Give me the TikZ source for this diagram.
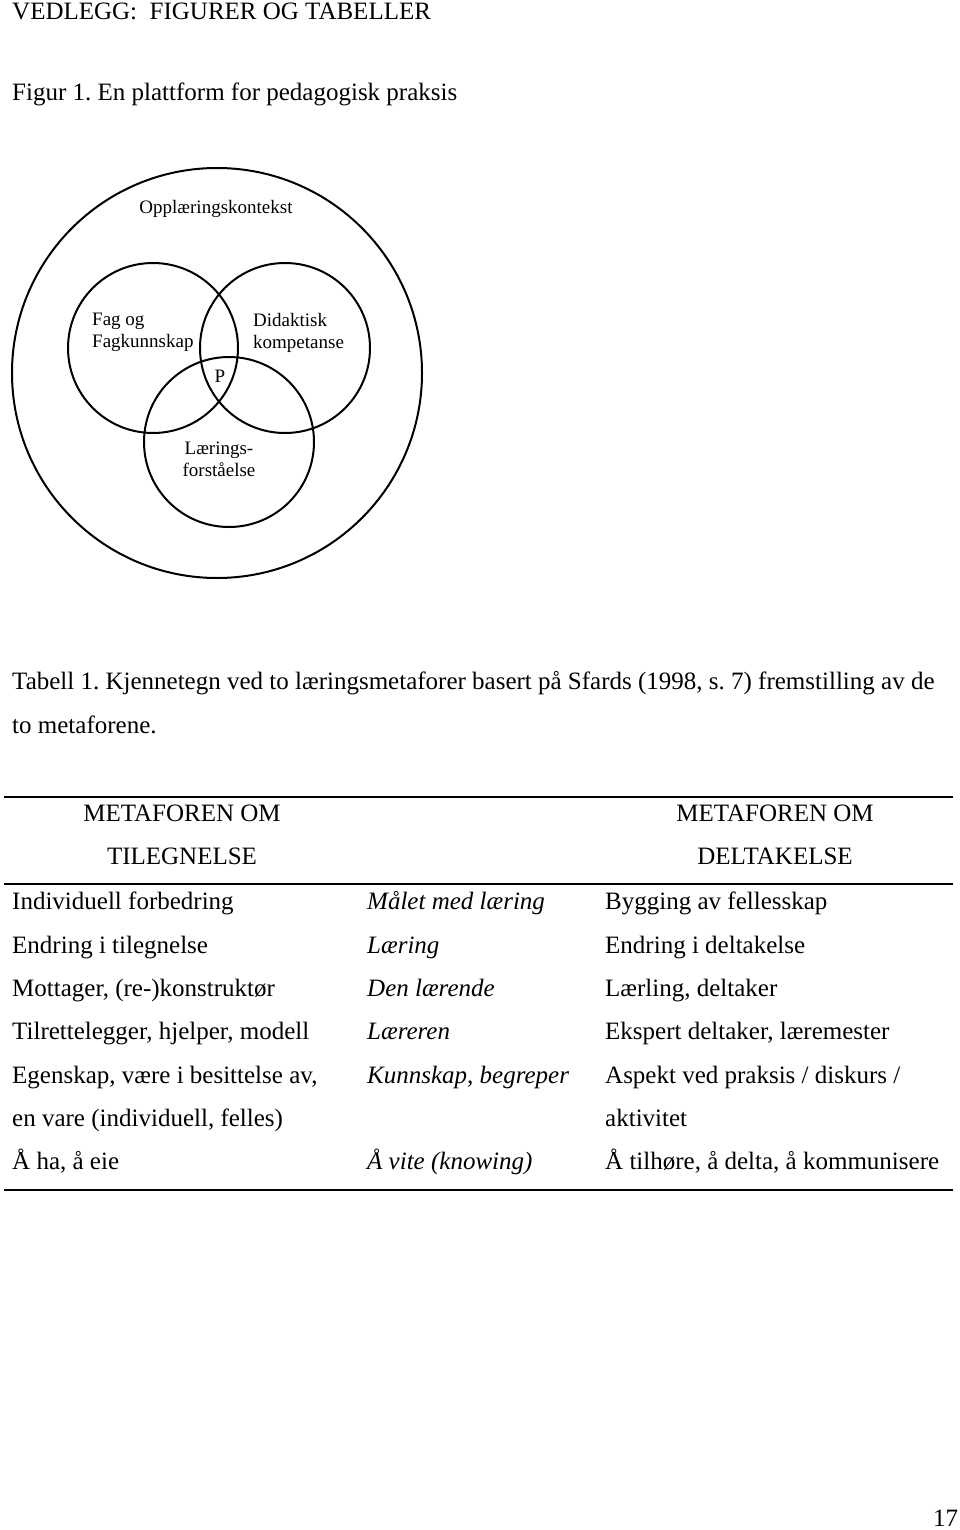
\documentclass[tikz,border=0pt]{standalone}
\usepackage{fontspec}
\setmainfont{Liberation Serif}
\usepackage{tikz}
\frenchspacing
\tikzset{
  txt/.style={inner sep=0pt, anchor=base west, font=\fontsize{25}{30}\selectfont},
  ctxt/.style={txt, anchor=base},
  itxt/.style={txt, font=\fontsize{25}{30}\selectfont\itshape},
  venn/.style={inner sep=0pt, font=\fontsize{19}{22}\selectfont, align=left},
  ring/.style={line width=2pt},
}
\begin{document}
\begin{tikzpicture}[x=1pt,y=-1pt]
\useasboundingbox (0,0) rectangle (960,1530);
\node[txt] (vedlegg) at (12,20) {VEDLEGG:\ \ FIGURER OG TABELLER};
\node[txt] (figur) at (12,101) {Figur 1. En plattform for pedagogisk praksis};
% diagram
\draw[ring] (217,373) circle[radius=205pt];
\draw[ring] (153,348) circle[radius=85pt];
\draw[ring] (285,348) circle[radius=85pt];
\draw[ring] (229,442) circle[radius=85pt];
\node[venn, anchor=base] (kontekst) at (216,214) {Opplæringskontekst};
\node[venn, anchor=north west] (fag) at (92,313) {Fag og\\Fagkunnskap};
\node[venn, anchor=north west] (didaktisk) at (253,313) {Didaktisk\\kompetanse};
\node[venn, anchor=base] (p) at (220,382) {P};
\node[venn, anchor=north, align=center] (laering) at (219,442) {Lærings-\\forståelse};
% tabell
\node[txt] (tabell) at (12,689) {Tabell 1. Kjennetegn ved to læringsmetaforer basert på Sfards (1998, s. 7) fremstilling av de};
\node[txt] (tabell2) at (12,733) {to metaforene.};
\draw[line width=2pt] (4,797) -- (953,797);
\draw[line width=1.5pt] (4,884) -- (953,884);
\draw[line width=2.5pt] (4,1190) -- (953,1190);
\node[ctxt] (hA1) at (182,821) {METAFOREN OM};
\node[ctxt] (hA2) at (182,864) {TILEGNELSE};
\node[ctxt] (hB1) at (775,821) {METAFOREN OM};
\node[ctxt] (hB2) at (775,864) {DELTAKELSE};
%
\node[txt] (a1) at (12,909) {Individuell forbedring};
\node[itxt] (m1) at (367,909) {Målet med læring};
\node[txt] (b1) at (605,909) {Bygging av fellesskap};
\node[txt] (a2) at (12,953) {Endring i tilegnelse};
\node[itxt] (m2) at (367,953) {Læring};
\node[txt] (b2) at (605,953) {Endring i deltakelse};
\node[txt] (a3) at (12,996) {Mottager, (re-)konstruktør};
\node[itxt] (m3) at (367,996) {Den lærende};
\node[txt] (b3) at (605,996) {Lærling, deltaker};
\node[txt] (a4) at (12,1039) {Tilrettelegger, hjelper, modell};
\node[itxt] (m4) at (367,1039) {Læreren};
\node[txt] (b4) at (605,1039) {Ekspert deltaker, læremester};
\node[txt] (a5) at (12,1083) {Egenskap, være i besittelse av,};
\node[itxt] (m5) at (367,1083) {Kunnskap, begreper};
\node[txt] (b5) at (605,1083) {Aspekt ved praksis / diskurs /};
\node[txt] (a6) at (12,1126) {en vare (individuell, felles)};
\node[txt] (b6) at (605,1126) {aktivitet};
\node[txt] (a7) at (12,1169) {Å ha, å eie};
\node[itxt] (m7) at (367,1169) {Å vite (knowing)};
\node[txt] (b7) at (605,1169) {Å tilhøre, å delta, å kommunisere};
%
\node[txt] (side) at (933,1526) {17};
\end{tikzpicture}
\end{document}
